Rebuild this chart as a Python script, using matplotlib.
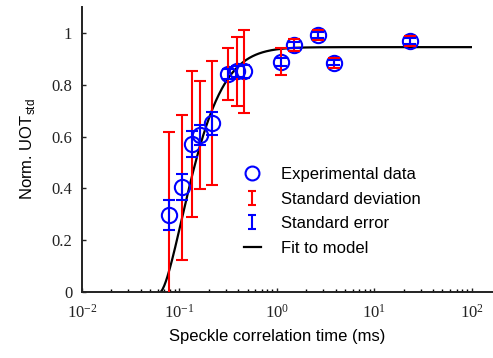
import numpy as np
import matplotlib
matplotlib.use('Agg')
import matplotlib.pyplot as plt
from matplotlib.path import Path
from matplotlib.lines import Line2D
from matplotlib.ticker import FuncFormatter

plt.rcParams['font.family'] = ['Liberation Sans', 'DejaVu Sans']
plt.rcParams['mathtext.fontset'] = 'custom'
plt.rcParams['mathtext.rm'] = 'Liberation Serif'
plt.rcParams['mathtext.sf'] = 'Liberation Sans'

# measured points (speckle correlation time in ms)
tau = [0.0788, 0.106, 0.135, 0.161, 0.217, 0.317, 0.393, 0.460, 1.10, 1.51, 2.62, 3.90, 23.1]
uot = [0.297, 0.405, 0.571, 0.606, 0.651, 0.842, 0.851, 0.851, 0.889, 0.954, 0.992, 0.885, 0.969]
sd = [0.32, 0.28, 0.28, 0.21, 0.24, 0.10, 0.135, 0.16, 0.052, 0.024, 0.021, 0.02, 0.02]
se = [0.057, 0.05, 0.05, 0.04, 0.045, 0.02, 0.02, 0.025, 0.015, 0.012, 0.01, 0.01, 0.01]

# model fit parameters
fit_amp = 0.945
fit_t0 = 0.0637
fit_pow = 1.53

xticks = [0.01, 0.1, 1, 10, 100]
yticks = [0, 0.2, 0.4, 0.6, 0.8, 1]
ytick_labels = ['0', '0.2', '0.4', '0.6', '0.8', '1']

fig = plt.figure(figsize=(4.93, 3.58), dpi=100)
ax = fig.add_axes([0.1663, 0.1844, 0.7905, 0.7961])

t_fit = np.logspace(np.log10(fit_t0), 2, 400)
y_fit = fit_amp * (1 - np.exp(-np.log(t_fit / fit_t0) ** fit_pow))
ax.plot(t_fit, y_fit, color='black', lw=1.6, zorder=2)

ax.plot(tau, uot, 'o', mfc='none', mec='blue', ms=11, mew=1.5, zorder=3)
ax.errorbar(tau, uot, yerr=sd, fmt='none', ecolor='red', elinewidth=1.5,
            capsize=4.5, capthick=1.5, zorder=4)
ax.errorbar(tau, uot, yerr=se, fmt='none', ecolor='blue', elinewidth=1.5,
            capsize=4.5, capthick=1.5, zorder=5)

ax.set_xscale('log')
ax.set_xlim(0.01, 100)
ax.set_ylim(0, 1.1)
ax.set_yticks(yticks)
ax.set_yticklabels(ytick_labels, fontfamily='Liberation Serif', fontsize=12)
ax.set_xticks(xticks)
ax.xaxis.set_major_formatter(FuncFormatter(
    lambda v, p: r'$\mathrm{10^{%d}}$' % int(round(np.log10(v)))))

for s in ['top', 'right']:
    ax.spines[s].set_visible(False)
for s in ['left', 'bottom']:
    ax.spines[s].set_linewidth(1.4)
    ax.spines[s].set_color('#222222')
ax.spines['bottom'].set_bounds(0.01, 165)

ax.tick_params(axis='both', which='major', direction='in', length=3, width=1,
               labelsize=12, colors='#222222')
ax.tick_params(axis='x', which='minor', direction='in', length=2, width=1)
ax.tick_params(axis='x', pad=8)
ax.tick_params(axis='y', pad=7)

ax.set_xlabel('Speckle correlation time (ms)', fontsize=12, labelpad=6)
ax.set_ylabel(r'Norm. UOT$_\mathsf{std}$', fontsize=12, labelpad=10)

ibar = Path([(-0.6, 1), (0.6, 1), (0, 1), (0, -1), (-0.6, -1), (0.6, -1)],
            [Path.MOVETO, Path.LINETO, Path.MOVETO, Path.LINETO, Path.MOVETO, Path.LINETO])
handles = [
    Line2D([], [], ls='none', marker='o', mfc='none', mec='blue', ms=10, mew=1.5),
    Line2D([], [], ls='none', marker=ibar, mfc='none', mec='red', ms=10, mew=1.5),
    Line2D([], [], ls='none', marker=ibar, mfc='none', mec='blue', ms=10, mew=1.5),
    Line2D([], [], color='black', lw=1.6),
]
labels = ['Experimental data', 'Standard deviation', 'Standard error', 'Fit to model']
fig.legend(handles, labels, loc='upper left', bbox_to_anchor=(244 / 493, 1 - 167 / 358),
           frameon=False, fontsize=12, handlelength=1.0, handletextpad=1.2,
           labelspacing=0.58, borderpad=0, borderaxespad=0)

fig.savefig('out.png', dpi=100)
